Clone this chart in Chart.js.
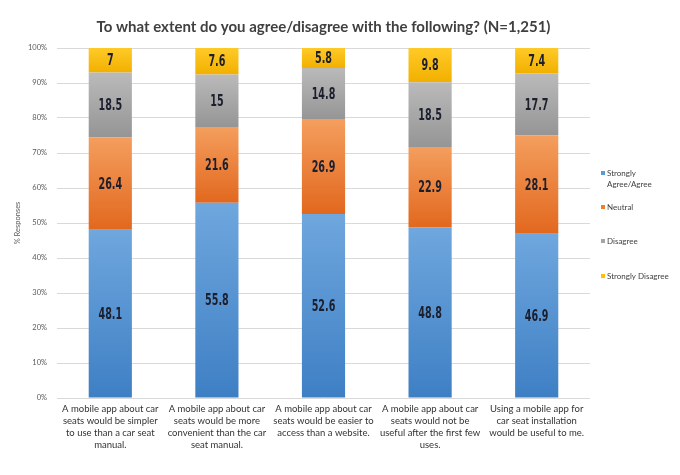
<!DOCTYPE html>
<html>
<head>
<meta charset="utf-8">
<script src="https://cdn.jsdelivr.net/npm/chart.js@4.4.1/dist/chart.umd.min.js"></script>
<style>
  html, body { margin: 0; padding: 0; background: #fff; }
  #wrap { width: 680px; height: 475px; position: relative; }
</style>
</head>
<body>
<div id="wrap"><canvas id="chart"></canvas></div>
<script>
// 카테고리 (x축 라벨, 줄바꿈 포함)
const categories = [
    ['A mobile app about car', 'seats would be simpler', 'to use than a car seat', 'manual.'],
    ['A mobile app about car', 'seats would be more', 'convenient than the car', 'seat manual.'],
    ['A mobile app about car', 'seats would be easier to', 'access than a website.'],
    ['A mobile app about car', 'seats would not be', 'useful after the first few', 'uses.'],
    ['Using a mobile app for', 'car seat installation', 'would be useful to me.']
];

// 시리즈 값 (%)
const agreeValues = [48.1, 55.8, 52.6, 48.8, 46.9];
const neutralValues = [26.4, 21.6, 26.9, 22.9, 28.1];
const disagreeValues = [18.5, 15, 14.8, 18.5, 17.7];
const strongDisagreeValues = [7, 7.6, 5.8, 9.8, 7.4];

const seriesLabels = ['Strongly Agree/Agree', 'Neutral', 'Disagree', 'Strongly Disagree'];
const legendLines = [['Strongly', 'Agree/Agree'], ['Neutral'], ['Disagree'], ['Strongly Disagree']];

// 색상 (위쪽 밝게, 아래쪽 어둡게)
const COLORS = [
    { top: '#6fa7de', bottom: '#3e7fc4', flat: '#5b9bd5' },
    { top: '#f49e5e', bottom: '#e2681e', flat: '#ed7d31' },
    { top: '#bababa', bottom: '#959595', flat: '#a5a5a5' },
    { top: '#ffca28', bottom: '#f2b000', flat: '#ffc000' }
];

const allSeries = [agreeValues, neutralValues, disagreeValues, strongDisagreeValues];

/**
 * 막대 구간별 세로 그라데이션
 */
function segmentGradient(context) {
    const chart = context.chart;
    const di = context.datasetIndex;
    const idx = context.dataIndex;
    const col = COLORS[di];
    if (!chart.chartArea || idx === undefined) return col.flat;
    const y = chart.scales.y;
    let base = 0;
    for (let k = 0; k < di; k++) base += allSeries[k][idx];
    const top = base + allSeries[di][idx];
    const y0 = y.getPixelForValue(Math.min(top, 100));
    const y1 = y.getPixelForValue(base);
    const g = chart.ctx.createLinearGradient(0, y0, 0, y1);
    g.addColorStop(0, col.top);
    g.addColorStop(1, col.bottom);
    return g;
}

// 값 라벨 플러그인 (좁은 굵은 글꼴 흉내: 가로 축소)
const valueLabels = {
    id: 'valueLabels',
    afterDatasetsDraw(chart) {
        const ctx = chart.ctx;
        chart.data.datasets.forEach((ds, di) => {
            const meta = chart.getDatasetMeta(di);
            meta.data.forEach((bar, i) => {
                const yc = (bar.y + bar.base) / 2;
                ctx.save();
                ctx.translate(bar.x, yc + 1);
                ctx.scale(0.6, 1);
                ctx.font = 'bold 16px "DejaVu Sans", sans-serif';
                ctx.fillStyle = '#1c1f2e';
                ctx.textAlign = 'center';
                ctx.textBaseline = 'middle';
                ctx.fillText(String(ds.data[i]), 0, 0);
                ctx.restore();
            });
        });
    }
};

// 오른쪽 범례 플러그인
const sideLegend = {
    id: 'sideLegend',
    afterDraw(chart) {
        const ctx = chart.ctx;
        const x = chart.chartArea.right + 11;
        const rows = [173, 207, 241, 276];
        ctx.save();
        ctx.font = '8px Lato, "Open Sans", sans-serif';
        ctx.textBaseline = 'middle';
        ctx.textAlign = 'left';
        legendLines.forEach((lines, i) => {
            ctx.fillStyle = COLORS[i].flat;
            ctx.fillRect(x, rows[i] - 2, 4, 4);
            ctx.fillStyle = '#404040';
            lines.forEach((t, j) => {
                ctx.fillText(t, x + 6, rows[i] + j * 11);
            });
        });
        ctx.restore();
    }
};

const ctx = document.getElementById('chart').getContext('2d');
const chart = new Chart(ctx, {
    type: 'bar',
    data: {
        labels: categories,
        datasets: allSeries.map((vals, i) => ({
            label: seriesLabels[i],
            data: vals,
            backgroundColor: segmentGradient,
            borderWidth: 0,
            barPercentage: 0.405,
            categoryPercentage: 1
        }))
    },
    options: {
        responsive: true,
        maintainAspectRatio: false,
        animation: false,
        layout: {
            padding: { left: 0, right: 90, top: 0, bottom: 0 }
        },
        plugins: {
            legend: { display: false },
            tooltip: { enabled: false },
            title: {
                display: true,
                text: 'To what extent do you agree/disagree with the following? (N=1,251)',
                color: '#404040',
                fullSize: false,
                font: { family: 'Lato, "Open Sans", sans-serif', size: 15, weight: 'bold' },
                padding: { top: 18, bottom: 12 }
            }
        },
        scales: {
            x: {
                stacked: true,
                grid: { display: false, drawTicks: false },
                border: { display: false },
                ticks: {
                    color: '#333333',
                    maxRotation: 0,
                    autoSkip: false,
                    padding: 5,
                    font: { family: 'Lato, "Open Sans", sans-serif', size: 9.5, lineHeight: 1.26 }
                },
                afterFit(scale) { scale.height = 77; }
            },
            y: {
                stacked: true,
                min: 0,
                max: 100,
                grid: { color: '#d9d9d9', drawTicks: false },
                border: { display: false },
                ticks: {
                    stepSize: 10,
                    color: '#595959',
                    padding: 10,
                    font: { family: 'Lato, "Open Sans", sans-serif', size: 7.5 },
                    callback: v => v + '%'
                },
                title: {
                    display: true,
                    text: '% Responses',
                    color: '#595959',
                    padding: { top: 13, bottom: 0 },
                    font: { family: 'Lato, "Open Sans", sans-serif', size: 7.5 }
                },
                afterFit(scale) { scale.width = 57; }
            }
        }
    },
    plugins: [valueLabels, sideLegend]
});
</script>
</body>
</html>
